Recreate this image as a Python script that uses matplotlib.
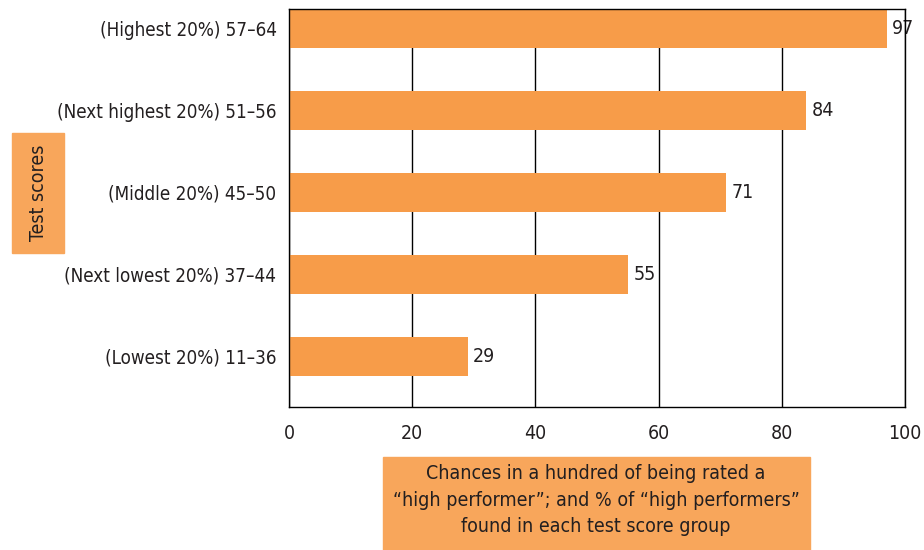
import matplotlib.pyplot as plt
from matplotlib.patches import Rectangle

plt.rcParams['font.family'] = ['DejaVu Sans']
plt.rcParams['font.stretch'] = 'condensed'

groups = ['(Lowest 20%) 11\u201336', '(Next lowest 20%) 37\u201344', '(Middle 20%) 45\u201350',
          '(Next highest 20%) 51\u201356', '(Highest 20%) 57\u201364']
chances = [29, 55, 71, 84, 97]
xticks = [0, 20, 40, 60, 80, 100]

bar_color = '#F79C49'
box_color = '#F8A65B'
text_color = '#231F20'

fig = plt.figure(figsize=(9.24, 5.5), dpi=100)
ax = fig.add_axes([289/924, 1 - 407/550, (905 - 289)/924, (407 - 9)/550])

ypos = list(range(len(groups)))
ax.barh(ypos, chances, height=0.48, color=bar_color, zorder=2)
for y, v in zip(ypos, chances):
    ax.text(v + 0.9, y, str(v), va='center', ha='left', fontsize=14, color=text_color)

ax.set_xlim(0, 100)
ax.set_ylim(-0.62, 4.24)
ax.set_xticks(xticks)
ax.set_yticks(ypos)
ax.set_yticklabels(groups)
ax.tick_params(length=0, labelsize=13.5, colors=text_color)
ax.tick_params(axis='x', pad=12, labelsize=14)
ax.tick_params(axis='y', pad=9)
ax.grid(axis='x', color='black', linewidth=1, zorder=1)
ax.set_axisbelow(True)
for s in ax.spines.values():
    s.set_color('black')
    s.set_linewidth(1)
    s.set_zorder(3)

# boxed axis titles
fig.patches.append(Rectangle((12/924, 1 - 253/550), 52/924, 120/550,
                             transform=fig.transFigure, color=box_color, zorder=0))
fig.text(38/924, 1 - 193/550, 'Test scores', rotation=90, ha='center', va='center',
         fontsize=14, color=text_color)

fig.patches.append(Rectangle((383/924, 0), 427/924, 93/550,
                             transform=fig.transFigure, color=box_color, zorder=0))
fig.text(596/924, 1 - 500/550,
         'Chances in a hundred of being rated a\n\u201chigh performer\u201d; and % of \u201chigh performers\u201d\nfound in each test score group',
         ha='center', va='center', fontsize=14, color=text_color, linespacing=1.5)

fig.savefig('out.png', dpi=100)
